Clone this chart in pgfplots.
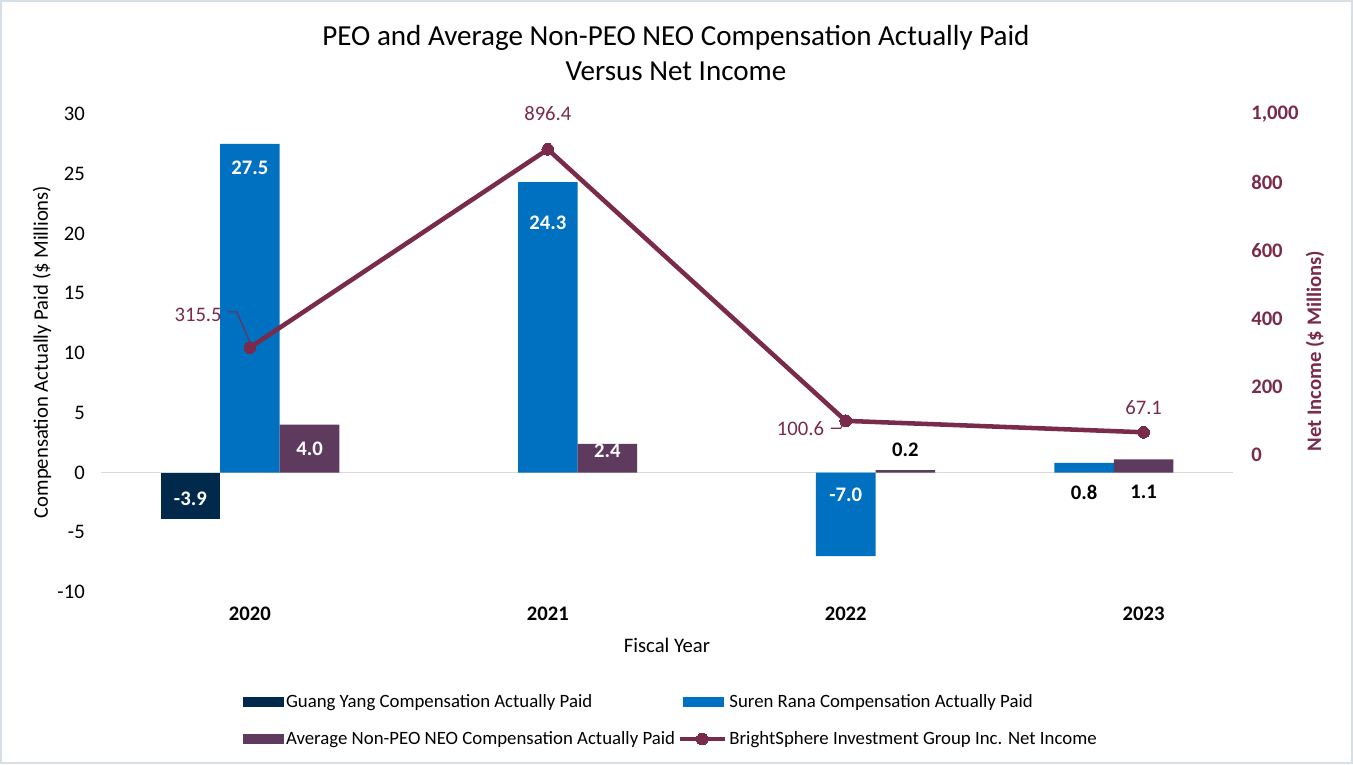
\documentclass[border=0pt]{standalone}
\usepackage{graphicx}
\usepackage{pgfplots}
\pgfplotsset{compat=1.18}
\usepackage{fontspec}
\setmainfont{Carlito}
\definecolor{cnavy}{RGB}{1,41,75}
\definecolor{cblue}{RGB}{0,112,192}
\definecolor{cpurple}{RGB}{94,58,95}
\definecolor{cmaroon}{RGB}{122,42,74}
\definecolor{czero}{RGB}{217,217,217}
\definecolor{cframe}{RGB}{214,222,230}
\newcommand\fs{\fontsize{15.5pt}{18pt}\selectfont}
\begin{document}
\begin{tikzpicture}
\path[use as bounding box] (-75.75pt,-129pt) rectangle (939pt,444pt);
\draw[cframe, line width=1.5pt] (-74.75pt,-128pt) rectangle (938pt,443pt);
\begin{axis}[
  at={(0pt,0pt)}, anchor=south west, scale only axis,
  width=849pt, height=358.5pt,
  xmin=-0.5, xmax=3.3, ymin=-10, ymax=30,
  axis line style={draw=none}, tick style={draw=none}, major tick length=0pt,
  xtick={0,1,2,3}, xticklabels={2020,2021,2022,2023},
  xticklabel style={font=\fs\bfseries, anchor=center, yshift=-16.5pt},
  ytick={-10,-5,...,30},
  yticklabel style={font=\fs, anchor=east, inner sep=0pt, xshift=-12pt},
  /pgf/number format/assume math mode=true,
  clip=false,
]
\draw[czero, line width=1.2pt] (axis cs:-0.5,0) -- (axis cs:3.3,0);
\addplot[ybar, bar width=0.2, bar shift=0pt, fill=cnavy, draw=none] coordinates {(-0.2,-3.9)};
\addplot[ybar, bar width=0.2, bar shift=0pt, fill=cblue, draw=none] coordinates {(0,27.5) (1,24.3) (2,-7.0) (2.8,0.8)};
\addplot[ybar, bar width=0.2, bar shift=0pt, fill=cpurple, draw=none] coordinates {(0.2,4.0) (1.2,2.4) (2.2,0.2) (3.0,1.1)};
\begin{scope}[every node/.style={font=\fs\bfseries}]
\node[text=white] at (axis cs:-0.2,-2.2) {-3.9};
\node[text=white] at (axis cs:0,25.5) {27.5};
\node[text=white] at (axis cs:0.2,2.0) {4.0};
\node[text=white] at (axis cs:1,20.9) {24.3};
\node[text=white] at (axis cs:1.2,1.8) {2.4};
\node[text=white] at (axis cs:2,-1.9) {-7.0};
\node[text=black] at (axis cs:2.2,1.9) {0.2};
\node[text=black] at (axis cs:2.8,-1.7) {0.8};
\node[text=black] at (axis cs:3.0,-1.6) {1.1};
\end{scope}
\end{axis}
\begin{axis}[
  at={(0pt,0pt)}, anchor=south west, scale only axis,
  width=849pt, height=358.5pt,
  xmin=-0.5, xmax=3.3, ymin=-401, ymax=1000,
  axis line style={draw=none}, tick style={draw=none}, major tick length=0pt,
  xtick=\empty,
  ytick={0,200,...,1000}, yticklabel pos=right,
  yticklabel style={font=\fs\bfseries, text=cmaroon, anchor=west, inner sep=0pt, xshift=13.5pt},
  /pgf/number format/assume math mode=true,
  /pgf/number format/1000 sep={,},
  clip=false,
  legend columns=2,
  legend style={at={(0.1254,-0.2093)}, anchor=north west, draw=none, fill=none,
    inner sep=0pt, row sep=13pt, font=\fontsize{14.1pt}{16pt}\selectfont,
    nodes={inner sep=1.7pt, anchor=west},
    /tikz/every even column/.append style={column sep=0pt}},
]
\addlegendimage{legend image code/.code={\fill[cnavy] (0pt,-3.4pt) rectangle (30pt,3.4pt);}}
\addlegendentry{Guang Yang Compensation Actually Paid}
\addlegendimage{legend image code/.code={\fill[cblue] (3pt,-3.4pt) rectangle (33pt,3.4pt);}}
\addlegendentry{Suren Rana Compensation Actually Paid}
\addlegendimage{legend image code/.code={\fill[cpurple] (0pt,-3.4pt) rectangle (30pt,3.4pt);}}
\addlegendentry{Average Non-PEO NEO Compensation Actually Paid}
\addplot[cmaroon, line width=3.4pt, mark=*, mark size=4.4pt, mark options={fill=cmaroon, draw=cmaroon, line width=0pt},
  legend image code/.code={\draw[mark repeat=2, mark phase=2] plot coordinates {(0pt,0pt) (17pt,0pt) (34pt,0pt)};}]
  coordinates {(0,315.5) (1,896.4) (2,100.6) (3,67.1)};
\addlegendentry{BrightSphere Investment Group Inc. Net Income}
\begin{scope}[every node/.style={font=\fs, text=cmaroon}]
\node at (axis cs:-0.174,412) {315.5};
\node at (axis cs:1.0,1000.8) {896.4};
\node at (axis cs:1.848,79) {100.6};
\node at (axis cs:3.0,138) {67.1};
\end{scope}
\draw[cmaroon, line width=0.8pt] (axis cs:-0.074,420) -- (axis cs:-0.044,420) -- (axis cs:0,330);
\draw[cmaroon, line width=0.8pt] (axis cs:1.95,79) -- (axis cs:1.983,79) -- (axis cs:2,100.6);
\end{axis}
\node[font=\fontsize{21.8pt}{26pt}\selectfont] at (431.25pt,415.5pt) {PEO and Average Non-PEO NEO Compensation Actually Paid};
\node[font=\fontsize{21.8pt}{26pt}\selectfont] at (431.25pt,390.75pt) {Versus Net Income};
\node[font=\fs] at (424.5pt,-39.75pt) {Fiscal Year};
\node[font=\fs, rotate=90] at (-44.25pt,180pt) {Compensation Actually Paid (\$ Millions)};
\node[font=\fs\bfseries, text=cmaroon, rotate=90] at (910.5pt,180.75pt) {Net Income (\$ Millions)};
\end{tikzpicture}
\end{document}
